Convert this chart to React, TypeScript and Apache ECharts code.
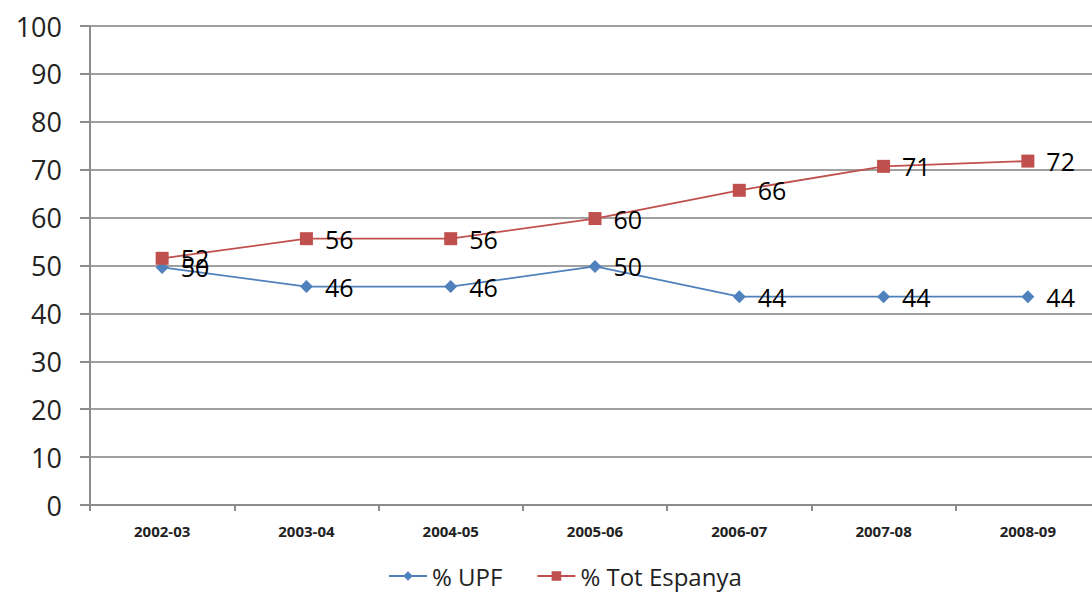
import React, { useEffect, useRef } from "react";
import * as echarts from "echarts";

const categories = ["2002-03", "2003-04", "2004-05", "2005-06", "2006-07", "2007-08", "2008-09"];
const upf = [49.6, 45.6, 45.6, 49.8, 43.5, 43.5, 43.5];
const totEspanya = [51.5, 55.6, 55.6, 59.8, 65.7, 70.7, 71.8];
const yTicks = { min: 0, max: 100, interval: 10 };

const FONT = "'Open Sans', 'Noto Sans', sans-serif";

export default function App() {
  const ref = useRef<HTMLDivElement>(null);
  useEffect(() => {
    if (!ref.current) return;
    const chart = echarts.init(ref.current, undefined, { renderer: "svg" });
    const labelCfg = {
      show: true,
      position: "right" as const,
      distance: 12,
      fontSize: 25,
      color: "#000",
      fontFamily: FONT,
      formatter: (p: any) => String(Math.round(p.value)),
    };
    chart.setOption({
      animation: false,
      backgroundColor: "#fff",
      textStyle: { fontFamily: FONT },
      grid: { left: 90, right: 0, top: 26, bottom: 90, containLabel: false },
      legend: {
        bottom: 2,
        left: 383,
        itemWidth: 38,
        itemHeight: 12,
        itemGap: 34,
        textStyle: { fontSize: 24, color: "#222", fontFamily: FONT },
        data: ["% UPF", "% Tot Espanya"],
      },
      xAxis: {
        type: "category",
        data: categories,
        boundaryGap: true,
        axisLine: { lineStyle: { color: "#8c8c8c", width: 2 } },
        axisTick: { show: true, length: 6, lineStyle: { color: "#8c8c8c", width: 2 } },
        axisLabel: { fontSize: 15, fontWeight: "bold", color: "#222", margin: 18, fontFamily: FONT },
      },
      yAxis: {
        type: "value",
        min: yTicks.min,
        max: yTicks.max,
        interval: yTicks.interval,
        axisLine: { show: true, lineStyle: { color: "#8c8c8c", width: 2 } },
        axisTick: { show: true, length: 10, lineStyle: { color: "#8c8c8c", width: 2 } },
        axisLabel: { fontSize: 27, color: "#222", margin: 28, fontFamily: FONT },
        splitLine: { lineStyle: { color: "#a0a0a0", width: 2 } },
      },
      series: [
        {
          name: "% UPF",
          type: "line",
          data: upf,
          symbol: "diamond",
          symbolSize: 13,
          itemStyle: { color: "#4F81BD" },
          lineStyle: { color: "#4F81BD", width: 1.8 },
          label: labelCfg,
        },
        {
          name: "% Tot Espanya",
          type: "line",
          data: totEspanya,
          symbol: "rect",
          symbolSize: 13,
          itemStyle: { color: "#C0504D" },
          lineStyle: { color: "#C0504D", width: 1.8 },
          label: labelCfg,
        },
      ],
    });
    return () => chart.dispose();
  }, []);
  return (
    <div style={{ position: "fixed", left: 0, top: 0, width: 1092, height: 595, overflow: "hidden", background: "#fff" }}>
      <div ref={ref} style={{ position: "absolute", left: 0, top: 0, width: 1100, height: 595 }} />
    </div>
  );
}
